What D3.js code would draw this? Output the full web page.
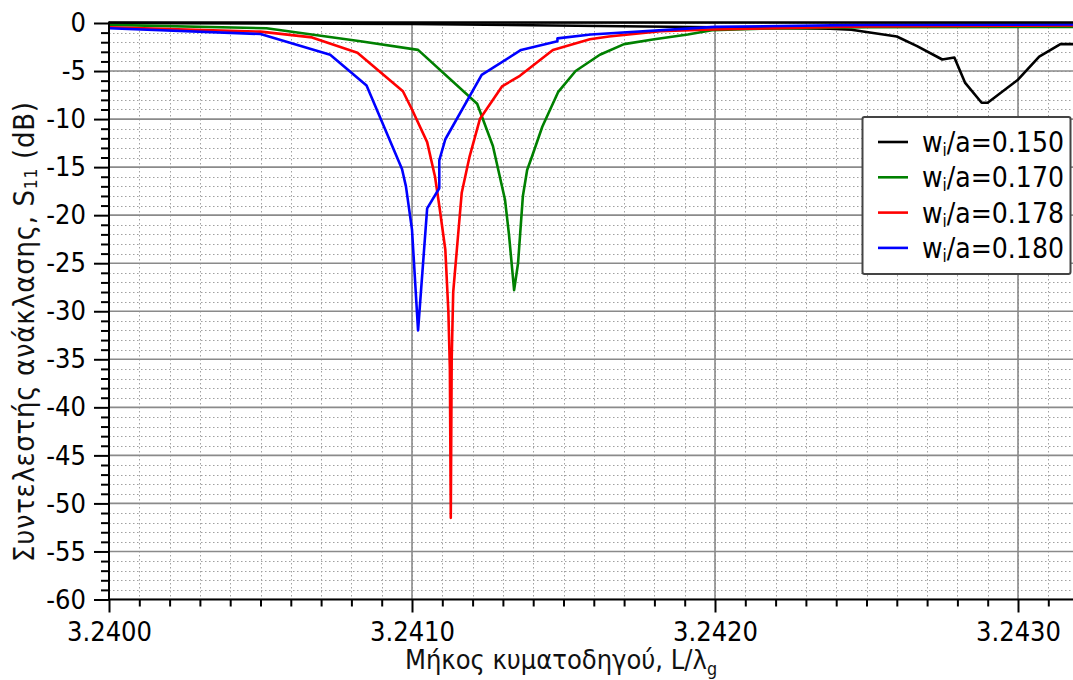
<!DOCTYPE html>
<html>
<head>
<meta charset="utf-8">
<script src="https://cdn.jsdelivr.net/npm/d3@7"></script>
<style>
  html, body { margin: 0; padding: 0; background: #fff; }
  svg { display: block; font-family: "DejaVu Sans Condensed", "DejaVu Sans", sans-serif; }
</style>
</head>
<body>
<svg id="chart" width="1073" height="680"></svg>
<script>
// S11 (dB) versus normalised waveguide length L/λg for four iris widths wi/a.
const s150 = [[3.24000, 0.0], [3.24100, -0.1], [3.24200, -0.45], [3.24238, -0.6], [3.24245, -0.7],
  [3.24260, -1.4], [3.242667, -2.4], [3.24275, -3.8], [3.24279, -3.6], [3.242825, -6.2],
  [3.24288, -8.3], [3.24290, -8.3], [3.24300, -5.9], [3.24307, -3.5], [3.24314, -2.2], [3.24320, -2.2]];

const s170 = [[3.24000, -0.2], [3.24052, -0.55], [3.24083, -1.9], [3.24102, -2.8], [3.241215, -8.4],
  [3.241267, -12.8], [3.241307, -18.4], [3.24132, -22.0], [3.241337, -27.8], [3.24135, -25.0],
  [3.241366, -18.0], [3.24138, -15.3], [3.241396, -13.9], [3.24143, -10.8], [3.241482, -7.2],
  [3.24154, -5.0], [3.24162, -3.3], [3.24170, -2.2], [3.24180, -1.7], [3.24191, -1.2],
  [3.24199, -0.75], [3.24215, -0.6], [3.24250, -0.45], [3.24320, -0.4]];

const s178 = [[3.24000, -0.45], [3.24050, -0.9], [3.24067, -1.5], [3.24082, -3.1], [3.24097, -7.1],
  [3.24100, -9.0], [3.24105, -12.4], [3.241076, -16.0], [3.24109, -19.0], [3.24111, -23.6],
  [3.24112, -30.0], [3.241125, -36.0], [3.241128, -51.5], [3.241131, -35.0], [3.241136, -28.0],
  [3.241148, -23.6], [3.241164, -17.7], [3.24119, -13.9], [3.241224, -10.0], [3.241297, -6.6],
  [3.241356, -5.5], [3.241465, -2.8], [3.241587, -1.7], [3.24165, -1.4], [3.24182, -0.85],
  [3.24199, -0.68], [3.24250, -0.35], [3.24320, -0.25]];

const s180 = [[3.24000, -0.55], [3.24050, -1.15], [3.24073, -3.3], [3.24085, -6.5], [3.240967, -15.2],
  [3.24098, -17.0], [3.24100, -21.5], [3.24102, -32.0], [3.24105, -19.3], [3.24109, -17.2],
  [3.24109, -14.3], [3.24111, -12.1], [3.24123, -5.4], [3.24136, -2.8], [3.24148, -1.9],
  [3.24148, -1.6], [3.24159, -1.2], [3.24200, -0.4], [3.24250, -0.2], [3.24320, -0.15]];

const seriesLabels = ["0.150", "0.170", "0.178", "0.180"];
const seriesColors = ["#000000", "#008000", "#ff0000", "#0000ff"];
const seriesData = [s150, s170, s178, s180];

const xMajorTicks = [3.2400, 3.2410, 3.2420, 3.2430];
const yMajorTicks = [0, -5, -10, -15, -20, -25, -30, -35, -40, -45, -50, -55, -60];

const svg = d3.select("#chart");
const tickFont = 27;
const xTitleFont = 27;
const yTitleFont = 29;
const legendFont = 28;
const fontStack = "\"DejaVu Sans Condensed\", \"DejaVu Sans\", sans-serif";

const x = d3.scaleLinear().domain([3.2400, 3.2432]).range([109, 109 + 0.0032 * 303000]);
const y = d3.scaleLinear().domain([0, -60]).range([23, 599.5]);

const xMinor = d3.range(0, 33).map(i => 3.2400 + i * 0.0001);
const yMinor = d3.range(0, 61).map(i => -i);

const plot = svg.append("g");
const clipId = "plotclip";
svg.append("clipPath").attr("id", clipId)
  .append("rect").attr("x", x(3.2400)).attr("y", y(0) - 2)
  .attr("width", x(3.2432) - x(3.2400)).attr("height", y(-60) - y(0) + 2);

// minor dotted grid
const grid = plot.append("g").attr("clip-path", `url(#${clipId})`);
grid.selectAll("line.vmin").data(xMinor).join("line")
  .attr("x1", d => Math.round(x(d)) + 0.5).attr("x2", d => Math.round(x(d)) + 0.5)
  .attr("y1", y(0)).attr("y2", y(-60))
  .attr("stroke", "#a0a0a0").attr("stroke-width", 1).attr("stroke-dasharray", "1.5,2.5");
grid.selectAll("line.hmin").data(yMinor).join("line")
  .attr("x1", x(3.2400)).attr("x2", x(3.2432))
  .attr("y1", d => Math.round(y(d)) + 0.5).attr("y2", d => Math.round(y(d)) + 0.5)
  .attr("stroke", "#a0a0a0").attr("stroke-width", 1).attr("stroke-dasharray", "1.5,2.5");

// major solid grid
grid.selectAll("line.vmaj").data(xMajorTicks).join("line")
  .attr("x1", d => x(d)).attr("x2", d => x(d))
  .attr("y1", y(0)).attr("y2", y(-60))
  .attr("stroke", "#8a8a8a").attr("stroke-width", 1.6);
grid.selectAll("line.hmaj").data(yMajorTicks).join("line")
  .attr("x1", x(3.2400)).attr("x2", x(3.2432))
  .attr("y1", d => y(d)).attr("y2", d => y(d))
  .attr("stroke", "#8a8a8a").attr("stroke-width", 1.6);

// curves
const line = d3.line().x(d => x(d[0])).y(d => y(d[1]));
const curves = plot.append("g").attr("clip-path", `url(#${clipId})`);
seriesData.forEach((s, i) => {
  curves.append("path").datum(s)
    .attr("d", line)
    .attr("fill", "none")
    .attr("stroke", seriesColors[i])
    .attr("stroke-width", 2.6)
    .attr("stroke-linejoin", "round");
});

// top frame line
plot.append("line")
  .attr("x1", x(3.2400)).attr("x2", 1073)
  .attr("y1", y(0) - 0.5).attr("y2", y(0) - 0.5)
  .attr("stroke", "#000").attr("stroke-width", 2.4);

// axes
const yAxis = d3.axisLeft(y).tickValues(yMajorTicks).tickSize(15).tickPadding(8)
  .tickFormat(d => String(d));
const yAxisMinor = d3.axisLeft(y).tickValues(yMinor.filter(d => d % 5 !== 0)).tickSize(8).tickFormat("");
const xAxis = d3.axisBottom(x).tickValues(xMajorTicks).tickSize(13).tickPadding(9)
  .tickFormat(d3.format(".4f"));
const xAxisMinor = d3.axisBottom(x).tickValues(xMinor.filter((d, i) => i % 10 !== 0)).tickSize(7).tickFormat("");

function styleAxis(g) {
  g.select(".domain").remove();
  g.selectAll(".tick line").attr("stroke", "#000").attr("stroke-width", 2);
  g.selectAll(".tick text").attr("fill", "#000").attr("font-size", tickFont)
    .attr("font-family", fontStack);
}

svg.append("g").attr("transform", `translate(${x(3.2400)},0)`).call(yAxis).call(styleAxis);
svg.append("g").attr("transform", `translate(${x(3.2400)},0)`).call(yAxisMinor).call(styleAxis);
svg.append("g").attr("transform", `translate(0,${y(-60)})`).call(xAxis).call(styleAxis);
svg.append("g").attr("transform", `translate(0,${y(-60)})`).call(xAxisMinor).call(styleAxis);

// axis lines
svg.append("line").attr("x1", x(3.2400)).attr("x2", x(3.2400)).attr("y1", y(0) - 1.5).attr("y2", y(-60) + 1)
  .attr("stroke", "#000").attr("stroke-width", 2);
svg.append("line").attr("x1", x(3.2400) - 1).attr("x2", 1073).attr("y1", y(-60)).attr("y2", y(-60))
  .attr("stroke", "#000").attr("stroke-width", 2);

// axis titles
const xTitle = svg.append("text")
  .attr("x", 405).attr("y", 669)
  .attr("font-size", xTitleFont).attr("fill", "#111");
xTitle.append("tspan").text("Μήκος κυματοδηγού, L/λ");
xTitle.append("tspan").attr("font-size", xTitleFont * 0.66).attr("dy", 6).text("g");

const yTitle = svg.append("text")
  .attr("transform", "translate(34,332) rotate(-90)")
  .attr("text-anchor", "middle")
  .attr("font-size", yTitleFont).attr("fill", "#111")
  .attr("textLength", 460).attr("lengthAdjust", "spacing");
yTitle.append("tspan").text("Συντελεστής ανάκλασης, S");
yTitle.append("tspan").attr("font-size", yTitleFont * 0.6).attr("dy", 3).text("11");
yTitle.append("tspan").attr("dy", -3).text(" (dB)");

// legend
const legend = svg.append("g");
legend.append("rect")
  .attr("x", 862.5).attr("y", 117).attr("width", 208).attr("height", 157).attr("rx", 2)
  .attr("fill", "#fff").attr("stroke", "#444").attr("stroke-width", 2);
seriesLabels.forEach((lab, i) => {
  const ly = 142 + i * 35.3;
  legend.append("line").attr("x1", 878).attr("x2", 908).attr("y1", ly).attr("y2", ly)
    .attr("stroke", seriesColors[i]).attr("stroke-width", 2.6);
  const t = legend.append("text").attr("x", 922).attr("y", ly + 10)
    .attr("font-size", legendFont).attr("fill", "#000");
  t.append("tspan").text("w");
  t.append("tspan").attr("font-size", legendFont * 0.6).attr("dy", 4).text("i");
  t.append("tspan").attr("dy", -4).text("/a=" + lab);
});
</script>
</body>
</html>
